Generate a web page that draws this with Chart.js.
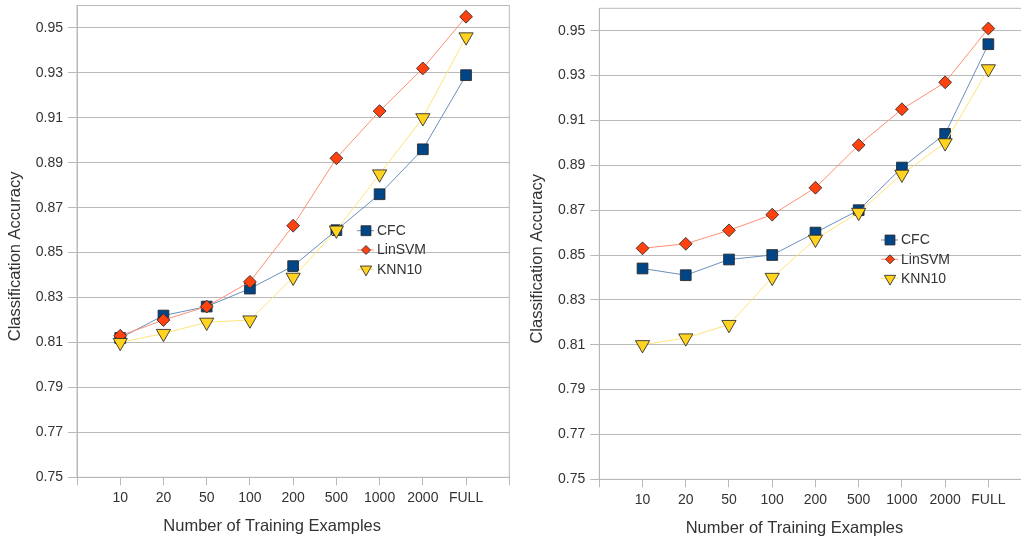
<!DOCTYPE html>
<html>
<head>
<meta charset="utf-8">
<script src="https://cdn.jsdelivr.net/npm/chart.js@4.4.0/dist/chart.umd.min.js"></script>
<style>
html, body { margin: 0; padding: 0; background: #fff; overflow: hidden; width: 1021px; height: 540px; }
.box { position: absolute; top: 0; width: 515px; height: 540px; }
#left { left: 0; }
#right { left: 522px; }
</style>
</head>
<body>
<div class="box" id="left"><canvas id="c1"></canvas></div>
<div class="box" id="right"><canvas id="c2"></canvas></div>
<script>
var categories = ['10', '20', '50', '100', '200', '500', '1000', '2000', 'FULL'];
var yTicks = [0.75, 0.77, 0.79, 0.81, 0.83, 0.85, 0.87, 0.89, 0.91, 0.93, 0.95];
var seriesNames = ['CFC', 'LinSVM', 'KNN10'];

var leftCFC = [0.812, 0.822, 0.826, 0.834, 0.844, 0.860, 0.876, 0.896, 0.929];
var leftLinSVM = [0.813, 0.820, 0.826, 0.837, 0.862, 0.892, 0.913, 0.932, 0.955];
var leftKNN10 = [0.810, 0.814, 0.819, 0.820, 0.839, 0.860, 0.885, 0.910, 0.946];

var rightCFC = [0.844, 0.841, 0.848, 0.850, 0.860, 0.870, 0.889, 0.904, 0.944];
var rightLinSVM = [0.853, 0.855, 0.861, 0.868, 0.880, 0.899, 0.915, 0.927, 0.951];
var rightKNN10 = [0.810, 0.813, 0.819, 0.840, 0.857, 0.869, 0.886, 0.900, 0.933];

var FONT = "'Liberation Sans', Arial, sans-serif";
var TEXT = '#333333';
var GRID = '#b9b9b9';

var styles = [
    { fill: '#004586', line: '#6a8fbd', shape: 'rect', radius: 7.6, rot: 0, order: 3, legendRadius: 7 },
    { fill: '#ff420e', line: '#ff8f73', shape: 'rectRot', radius: 6.4, rot: 0, order: 2, legendRadius: 4.5 },
    { fill: '#ffd320', line: '#ffe47a', shape: 'triangle', radius: 8.2, rot: 180, order: 1, legendRadius: 6.5 }
];

toPoints = function(values) {
    return values.map(function(v, i) {
        return { x: i + 1, y: v };
    });
}

var decor = {
    id: 'decor',
    beforeDatasetsDraw: function(chart) {
        var a = chart.chartArea;
        var ctx = chart.ctx;
        ctx.save();
        ctx.strokeStyle = GRID;
        ctx.lineWidth = 1;
        ctx.strokeRect(a.left, a.top, a.right - a.left, a.bottom - a.top);
        ctx.restore();
    },
    afterDraw: function(chart, args, opts) {
        var a = chart.chartArea;
        var ctx = chart.ctx;
        var ys = chart.scales.y;
        var xs = chart.scales.x;
        ctx.save();
        ctx.fillStyle = TEXT;
        ctx.font = '16.5px ' + FONT;
        ctx.textAlign = 'center';
        ctx.textBaseline = 'middle';
        ctx.fillText('Number of Training Examples', (ys.left + a.right) / 2, xs.bottom + 19);
        ctx.translate(ys.left - 20, (a.top + xs.bottom) / 2);
        ctx.rotate(-Math.PI / 2);
        ctx.fillText('Classification Accuracy', 0, 0);
        ctx.restore();

        // legend inside the plot
        ctx.save();
        ctx.font = '14px ' + FONT;
        ctx.textAlign = 'left';
        ctx.textBaseline = 'middle';
        var lx = a.left + opts.x;
        for (var i = 0; i < seriesNames.length; i++) {
            var s = styles[i];
            var ly = a.top + opts.y + i * 19.3;
            ctx.strokeStyle = s.line;
            ctx.lineWidth = 1;
            ctx.beginPath();
            ctx.moveTo(lx - 9, ly);
            ctx.lineTo(lx + 8, ly);
            ctx.stroke();
            ctx.fillStyle = s.fill;
            ctx.strokeStyle = 'rgba(40,40,40,0.85)';
            Chart.helpers.drawPoint(ctx, { pointStyle: s.shape, radius: s.legendRadius, rotation: s.rot, borderWidth: 1 }, lx, ly);
            ctx.fillStyle = TEXT;
            ctx.fillText(seriesNames[i], lx + 11, ly + 0.5);
        }
        ctx.restore();
    }
};

createAccuracyChart = function(canvasId, cfc, linsvm, knn, pad, legendPos) {
    var values = [cfc, linsvm, knn];
    var datasets = values.map(function(v, i) {
        var s = styles[i];
        return {
            label: seriesNames[i],
            data: toPoints(v),
            order: s.order,
            borderColor: s.line,
            borderWidth: 1,
            backgroundColor: s.fill,
            pointBackgroundColor: s.fill,
            pointBorderColor: 'rgba(40,40,40,0.85)',
            pointBorderWidth: 1,
            pointStyle: s.shape,
            pointRadius: s.radius,
            pointRotation: s.rot,
            tension: 0,
            clip: false
        };
    });
    new Chart(document.getElementById(canvasId), {
        type: 'line',
        data: { datasets: datasets },
        options: {
            responsive: true,
            maintainAspectRatio: false,
            animation: false,
            events: [],
            layout: { padding: pad, autoPadding: false },
            plugins: {
                legend: { display: false },
                tooltip: { enabled: false },
                decor: legendPos
            },
            scales: {
                x: {
                    type: 'linear',
                    min: 0,
                    max: 10,
                    afterBuildTicks: function(s) {
                        var t = [];
                        for (var i = 0; i <= categories.length + 1; i++) t.push({ value: i });
                        s.ticks = t;
                    },
                    afterFit: function(s) {
                        s.height = 30;
                        s.paddingLeft = 0;
                        s.paddingRight = 0;
                    },
                    grid: { drawOnChartArea: false, color: GRID, tickLength: 8, tickColor: GRID },
                    border: { color: GRID },
                    ticks: {
                        autoSkip: false,
                        maxRotation: 0,
                        padding: 4,
                        color: TEXT,
                        font: { family: FONT, size: 14 },
                        callback: function(v) { return categories[v - 1] || ''; }
                    }
                },
                y: {
                    type: 'linear',
                    min: 0.75,
                    max: 0.96,
                    afterBuildTicks: function(s) {
                        s.ticks = yTicks.map(function(v) { return { value: v }; });
                    },
                    afterFit: function(s) {
                        s.width = 42;
                        s.paddingTop = 0;
                        s.paddingBottom = 0;
                    },
                    grid: { color: GRID, tickLength: 9, tickColor: GRID },
                    border: { color: GRID },
                    ticks: {
                        padding: 5,
                        color: TEXT,
                        font: { family: FONT, size: 14 },
                        callback: function(v) { return v.toFixed(2); }
                    }
                }
            }
        },
        plugins: [decor]
    });
}

createAccuracyChart('c1', leftCFC, leftLinSVM, leftKNN10,
    { left: 35, right: 5.7, top: 5.5, bottom: 32.7 }, { x: 289, y: 225.2 });
createAccuracyChart('c2', rightCFC, rightLinSVM, rightKNN10,
    { left: 35.3, right: 5.4, top: 8.3, bottom: 30.7 }, { x: 290.7, y: 231.7 });
</script>
</body>
</html>
